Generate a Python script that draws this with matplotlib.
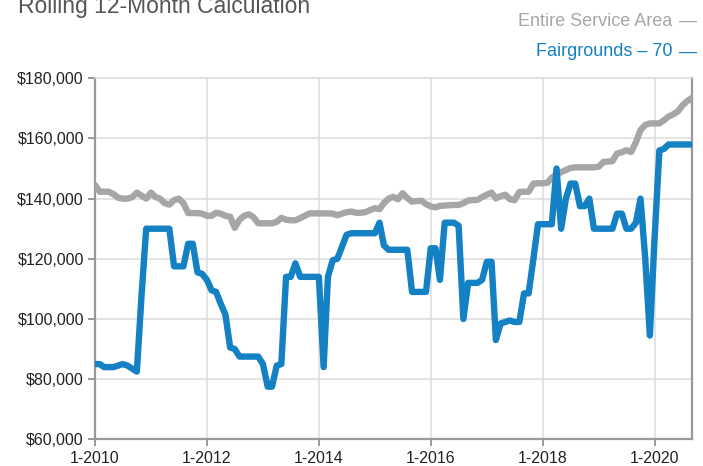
import numpy as np
import pandas as pd
import matplotlib
matplotlib.use("Agg")
import matplotlib.pyplot as plt
import matplotlib.dates as mdates
from matplotlib.ticker import FuncFormatter

# monthly values, Jan 2010 .. Sep 2020, in $1000
months = pd.date_range("2010-01-01", "2020-09-01", freq="MS")

entire_area = [
    144.5, 142.3, 142.3, 142.3, 141.5, 140.3, 140.0, 140.0, 140.5, 142.0,
    141.0, 140.0, 142.0, 140.5, 140.0, 138.5, 138.0, 139.5, 140.0, 138.5,
    135.2, 135.2, 135.2, 135.0, 134.3, 134.3, 135.3, 135.0, 134.3, 134.0,
    130.3, 133.0, 134.3, 134.8, 133.8, 131.8, 131.8, 131.8, 131.8, 132.3,
    133.6, 133.0, 132.8, 132.8, 133.5, 134.3, 135.1, 135.1, 135.1, 135.1,
    135.1, 135.0, 134.5, 135.0, 135.5, 135.7, 135.3, 135.3, 135.5, 136.2,
    136.8, 136.5, 138.5, 140.0, 140.6, 139.8, 141.8, 140.2, 139.0, 139.2,
    139.3, 138.2, 137.4, 137.1, 137.6, 137.7, 137.8, 137.9, 137.9, 138.5,
    139.4, 139.5, 139.6, 140.5, 141.3, 142.0, 140.1, 140.8, 141.3, 139.8,
    139.5, 142.2, 142.3, 142.3, 145.0, 145.1, 145.1, 145.3, 147.0, 148.0,
    148.8, 149.5, 150.2, 150.4, 150.4, 150.4, 150.4, 150.4, 150.6, 152.2,
    152.3, 152.5, 155.0, 155.4, 156.1, 155.5, 158.8, 162.8, 164.5, 165.0,
    165.0, 165.0, 166.0, 167.3, 168.0, 169.0, 171.0, 172.4, 173.5,
]

fairgrounds = [
    85.0, 85.0, 84.0, 84.0, 84.0, 84.5, 85.0, 84.5, 83.5, 82.5,
    108.0, 130.0, 130.0, 130.0, 130.0, 130.0, 130.0, 117.5, 117.5, 117.5,
    125.0, 125.0, 115.5, 115.0, 113.0, 109.5, 109.0, 105.0, 101.5, 90.5,
    90.0, 87.5, 87.5, 87.5, 87.5, 87.5, 85.0, 77.5, 77.5, 84.5,
    85.0, 114.0, 114.0, 118.5, 114.0, 114.0, 114.0, 114.0, 114.0, 84.0,
    114.0, 119.5, 120.0, 124.0, 128.0, 128.5, 128.5, 128.5, 128.5, 128.5,
    128.5, 132.0, 124.5, 123.0, 123.0, 123.0, 123.0, 123.0, 109.0, 109.0,
    109.0, 109.0, 123.5, 123.5, 113.0, 132.0, 132.0, 132.0, 131.0, 100.0,
    112.0, 112.0, 112.0, 113.0, 119.0, 119.0, 93.0, 98.5, 99.0, 99.5,
    99.0, 99.0, 108.5, 108.5, 120.0, 131.5, 131.5, 131.5, 131.5, 150.0,
    130.0, 140.0, 145.0, 145.0, 137.5, 137.5, 140.0, 130.0, 130.0, 130.0,
    130.0, 130.0, 135.0, 135.0, 130.0, 130.0, 132.0, 140.0, 120.0, 94.5,
    127.0, 156.0, 156.5, 158.0, 158.0, 158.0, 158.0, 158.0, 158.0,
]

title = "Rolling 12-Month Calculation"
labels = ["Entire Service Area", "Fairgrounds \u2013 70"]

gray = "#a6a6a6"
blue = "#1381c3"

plt.rcParams["font.family"] = ["Liberation Sans", "DejaVu Sans"]

fig = plt.figure(figsize=(7.03, 4.66), dpi=100)
ax = fig.add_axes([95 / 703, 1 - 439.3 / 466, (692 - 95) / 703, (439.3 - 78.3) / 466])

y_entire = np.array(entire_area) * 1000
y_fair = np.array(fairgrounds) * 1000

ax.plot(months, y_entire, color=gray, lw=4.6, solid_joinstyle="round", solid_capstyle="round", zorder=3)
ax.plot(months, y_fair, color=blue, lw=4.6, solid_joinstyle="round", solid_capstyle="round", zorder=4)

ax.set_xlim(months[0], months[-1])
ax.set_ylim(60000, 180000)
ax.set_yticks(np.arange(60000, 180001, 20000))
ax.yaxis.set_major_formatter(FuncFormatter(lambda v, p: "${:,.0f}".format(v)))
ax.xaxis.set_major_locator(mdates.YearLocator(2))
ax.xaxis.set_major_formatter(mdates.DateFormatter("1-%Y"))

ax.grid(True, color="#dddddd", lw=1.1, zorder=0)
ax.set_axisbelow(True)
for side in ["left", "bottom", "right"]:
    ax.spines[side].set_color("#999999")
    ax.spines[side].set_linewidth(1.6)
ax.spines["top"].set_color("#dddddd")
ax.spines["top"].set_linewidth(1.1)

ax.tick_params(axis="both", colors="#999999", length=5, width=1.4, labelcolor="#222222", labelsize=11.5)
ax.tick_params(axis="y", pad=3)
ax.tick_params(axis="x", pad=3.5)

# title sits partly above the top edge, as in the source
fig.text(18 / 703, 1 - 13 / 466, title, fontsize=16.5, color="#555555", ha="left", va="baseline")

fig.text(672 / 703, 1 - 26 / 466, labels[0], fontsize=13, color=gray, ha="right", va="baseline")
fig.text(697 / 703, 1 - 26 / 466, "\u2014", fontsize=13, color=gray, ha="right", va="baseline")
fig.text(672 / 703, 1 - 56.5 / 466, labels[1], fontsize=13, color=blue, ha="right", va="baseline")
fig.text(697 / 703, 1 - 56.5 / 466, "\u2014", fontsize=13, color=blue, ha="right", va="baseline")

fig.savefig("out.png", dpi=100)
